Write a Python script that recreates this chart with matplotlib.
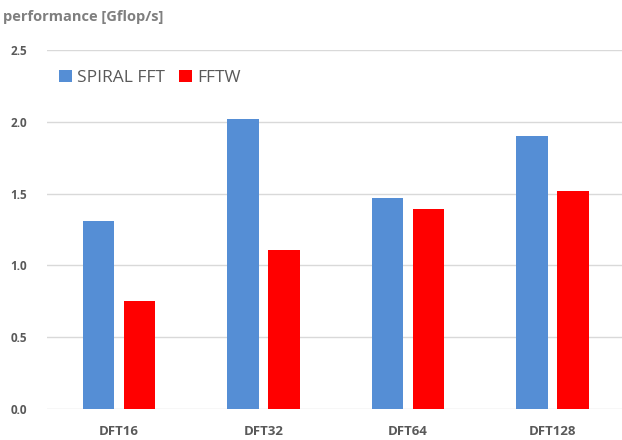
import numpy as np
import matplotlib
matplotlib.use("Agg")
import matplotlib.pyplot as plt

categories = ["DFT16", "DFT32", "DFT64", "DFT128"]
spiral = [1.31, 2.02, 1.47, 1.90]
fftw = [0.75, 1.11, 1.39, 1.52]
yticks = [0.0, 0.5, 1.0, 1.5, 2.0, 2.5]

plt.rcParams['font.family'] = ['Open Sans', 'DejaVu Sans']

fig = plt.figure(figsize=(6.22, 4.4), dpi=100)
ax = fig.add_axes([0.0752, 0.0711, 0.929, 0.8146])

x = np.arange(len(categories))
w = 0.22
ax.bar(x - 0.142, spiral, width=w, color="#558ed5", label="SPIRAL FFT", zorder=3)
ax.bar(x + 0.142, fftw, width=w, color="#ff0000", label="FFTW", zorder=3)

ax.set_xlim(-0.5, len(categories) - 0.5)
ax.set_ylim(0, 2.5)
ax.set_yticks(yticks)
ax.set_yticklabels([f"{t:.1f}" for t in yticks])
ax.set_xticks(x)
ax.set_xticklabels(categories)
ax.grid(axis="y", color="#d9d9d9", linewidth=1, zorder=0)
ax.set_axisbelow(True)
for s in ax.spines.values():
    s.set_visible(False)
ax.tick_params(length=0)
ax.tick_params(axis="y", pad=14, labelsize=8.5, labelcolor="#595959")
ax.tick_params(axis="x", pad=12, labelsize=9.5, labelcolor="#595959")
for lbl in ax.get_xticklabels() + ax.get_yticklabels():
    lbl.set_fontweight("bold")

fig.text(0.005, 0.962, "performance [Gflop/s]", fontsize=10.5, fontweight="bold",
         color="#7f7f7f", ha="left", va="center")

leg = ax.legend(loc="upper left", bbox_to_anchor=(0.0, 0.98), ncol=2, frameon=False,
                fontsize=12.5, handlelength=0.75, handleheight=0.75,
                handletextpad=0.3, columnspacing=0.8, borderaxespad=0.3)
for t in leg.get_texts():
    t.set_color("#595959")

fig.savefig("out.png", dpi=100)
